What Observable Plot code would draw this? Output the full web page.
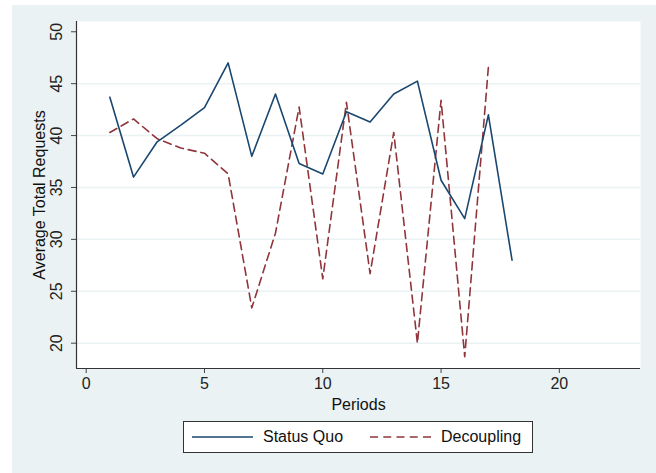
<!DOCTYPE html>
<html>
<head>
<meta charset="utf-8">
<script src="https://cdn.jsdelivr.net/npm/d3@7"></script>
<script src="https://cdn.jsdelivr.net/npm/@observablehq/plot@0.6"></script>
<style>
  html, body { margin: 0; padding: 0; background: #ffffff; width: 656px; height: 473px; overflow: hidden; }
  #bg { position: absolute; left: 12px; top: 5px; right: 0; bottom: 0; background: #eaf2f3; }
  #chart { position: absolute; left: 0; top: 0; }
  #legend { position: absolute; left: 183px; top: 421px; width: 348px; height: 30px; background: #fff;
    border: 1px solid #333; box-sizing: content-box; font: 16px "Liberation Sans", Arial, sans-serif; color: #111; }
  #legend .item { position: absolute; top: 0; height: 30px; display: flex; align-items: center; }
  #legend svg { display: block; }
</style>
</head>
<body>
<div id="bg"></div>
<div id="chart"></div>
<div id="legend"></div>
<script>
const periods = [1, 2, 3, 4, 5, 6, 7, 8, 9, 10, 11, 12, 13, 14, 15, 16, 17, 18];
const statusQuo = [43.7, 36.0, 39.4, 41.0, 42.7, 47.0, 38.0, 44.0, 37.3, 36.3, 42.3, 41.3, 44.0, 45.25, 35.7, 32.0, 42.0, 28.0];
const decoupling = [40.3, 41.6, 39.7, 38.8, 38.3, 36.3, 23.4, 30.6, 42.75, 26.2, 43.2, 26.7, 40.3, 20.0, 43.4, 18.7, 46.6];
const seriesNames = ["Status Quo", "Decoupling"];
const seriesColors = ["#1a476f", "#90353b"];
const xTicks = [0, 5, 10, 15, 20];
const yTicks = [20, 25, 30, 35, 40, 45, 50];
const yGrid = [20, 25, 30, 35, 40, 45];
const xLabel = "Periods";
const yLabel = "Average Total Requests";

const sq = periods.map((p, i) => ({period: p, value: statusQuo[i]}));
const dc = decoupling.map((v, i) => ({period: periods[i], value: v}));

const font = '"Liberation Sans", Arial, sans-serif';

const chart = Plot.plot({
  width: 656,
  height: 414,
  marginLeft: 76,
  marginRight: 16,
  marginTop: 21,
  marginBottom: 46,
  style: {background: "transparent", fontFamily: font, fontSize: "16px", color: "#222"},
  x: {domain: [-0.41, 23.43]},
  y: {domain: [17.56, 50.99]},
  marks: [
    Plot.frame({fill: "white", stroke: null}),
    Plot.ruleY(yGrid, {stroke: "#eaf2f3", strokeWidth: 1.5}),
    Plot.axisY(yTicks, {tickSize: 5, tickFormat: () => "", stroke: "#444", label: null}),
    Plot.text(yTicks, {y: d => d, text: d => String(d), frameAnchor: "left", dx: -20, rotate: -90,
      fontSize: 16, fill: "#222", textAnchor: "middle", lineAnchor: "middle"}),
    Plot.axisX(xTicks, {tickSize: 5, tickPadding: 4, stroke: "#444", label: null, fontSize: 16, fill: "#222"}),
    Plot.text([yLabel], {frameAnchor: "left", dx: -37, rotate: -90, fontSize: 16, fill: "#111",
      textAnchor: "middle", lineAnchor: "middle"}),
    Plot.text([xLabel], {frameAnchor: "bottom", dy: 36, fontSize: 16, fill: "#111", lineAnchor: "middle"}),
    Plot.ruleX([-0.41], {stroke: "#333", strokeWidth: 1.2}),
    Plot.ruleY([17.56], {stroke: "#333", strokeWidth: 1.2}),
    Plot.line(dc, {x: "period", y: "value", stroke: seriesColors[1], strokeWidth: 1.6, strokeDasharray: "8,5"}),
    Plot.line(sq, {x: "period", y: "value", stroke: seriesColors[0], strokeWidth: 1.6})
  ]
});
document.getElementById("chart").appendChild(chart);

// Legend
const legend = document.getElementById("legend");
const itemLefts = [8, 186];
seriesNames.forEach((name, i) => {
  const item = document.createElement("div");
  item.className = "item";
  item.style.left = itemLefts[i] + "px";
  const sw = d3.create("svg").attr("width", 61).attr("height", 4);
  sw.append("line").attr("x1", 0).attr("x2", 61).attr("y1", 2).attr("y2", 2)
    .attr("stroke", seriesColors[i]).attr("stroke-width", 1.6)
    .attr("stroke-dasharray", i === 1 ? "8,5.25" : null);
  item.appendChild(sw.node());
  const t = document.createElement("span");
  t.textContent = name;
  t.style.marginLeft = "10px";
  item.appendChild(t);
  legend.appendChild(item);
});
</script>
</body>
</html>
